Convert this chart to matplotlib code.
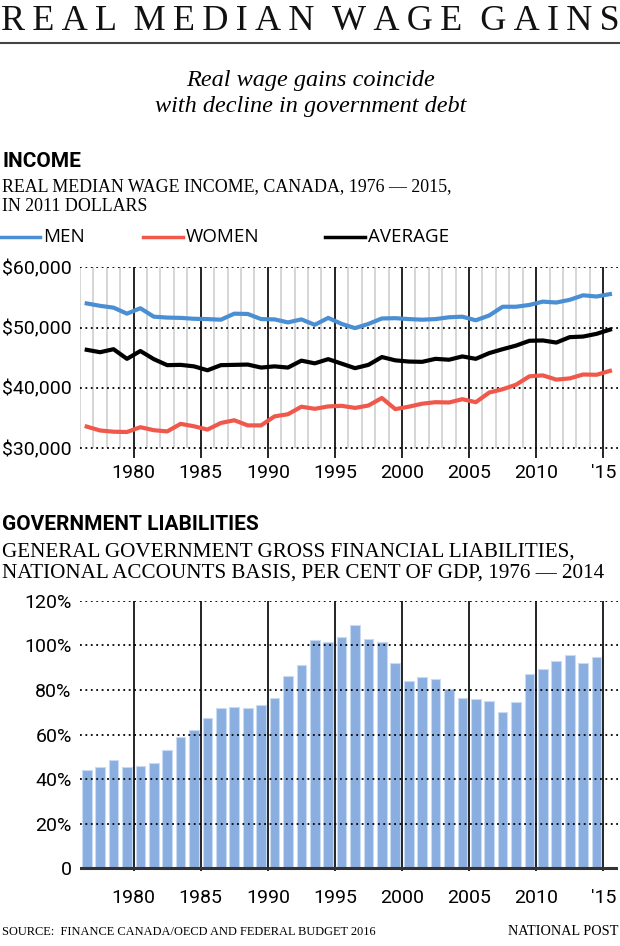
import numpy as np
import matplotlib
matplotlib.use("Agg")
import matplotlib.pyplot as plt
from matplotlib.lines import Line2D

# data
years_wage = np.arange(1976, 2016)
men = [54000, 53600, 53300, 52300, 53200, 51800, 51650, 51600, 51450, 51400,
       51300, 52300, 52250, 51400, 51350, 50850, 51350, 50450, 51600, 50600,
       49900, 50600, 51500, 51550, 51400, 51300, 51400, 51700, 51800, 51200,
       52000, 53450, 53450, 53750, 54300, 54150, 54600, 55350, 55150, 55550]
women = [33550, 32900, 32700, 32650, 33450, 32950, 32750, 34000, 33600, 33050,
         34150, 34600, 33750, 33750, 35250, 35600, 36850, 36500, 36900, 37000,
         36650, 37050, 38300, 36450, 36850, 37350, 37600, 37550, 38100, 37600,
         39200, 39750, 40500, 41900, 42050, 41350, 41550, 42200, 42150, 42800]
average = [46300, 45900, 46400, 44800, 46100, 44750, 43750, 43800, 43550, 42900,
           43750, 43800, 43850, 43350, 43550, 43350, 44500, 44050, 44750, 44000,
           43250, 43800, 45100, 44550, 44350, 44300, 44800, 44650, 45200, 44800,
           45750, 46400, 47000, 47800, 47850, 47500, 48400, 48500, 48950, 49650]

years_debt = np.arange(1976, 2015)
liabilities = [44.0, 45.5, 48.5, 45.5, 46.0, 47.3, 53.0, 58.8, 62.1, 67.4,
               71.7, 72.3, 72.0, 73.2, 76.3, 86.4, 91.0, 102.5, 101.3, 103.7,
               109.3, 103.0, 101.5, 92.1, 84.1, 85.6, 84.9, 80.4, 76.5, 75.7,
               74.9, 70.1, 74.6, 87.3, 89.4, 93.0, 95.8, 92.2, 94.6]

xticks = [1980, 1985, 1990, 1995, 2000, 2005, 2010, 2015]
xticklabels = ["1980", "1985", "1990", "1995", "2000", "2005", "2010", "'15"]

BLUE = "#4a8fd3"
RED = "#f0584c"
BAR = "#8aaedf"
SERIF = ["Liberation Serif", "DejaVu Serif"]
COND = ["Liberation Sans Narrow", "Roboto"]

W, H = 620, 946
fig = plt.figure(figsize=(6.2, 9.46), dpi=100)


def fy(px):
    return 1 - px / H


def fx(px):
    return px / W


# header
title = "  ".join("\u2009".join(w) for w in "REAL MEDIAN WAGE GAINS".split())
fig.text(fx(310), fy(30), title, family=SERIF, fontsize=26, ha="center",
         va="baseline", color="#111111")
fig.add_artist(Line2D([0, 1], [fy(43), fy(43)], color="#444444", lw=1.5))
fig.text(fx(311), fy(86), "Real wage gains coincide", family=SERIF,
         style="italic", fontsize=17.5, ha="center", va="baseline")
fig.text(fx(311), fy(112), "with decline in government debt", family=SERIF,
         style="italic", fontsize=17.5, ha="center", va="baseline")

# income heading
fig.text(fx(2), fy(167), "INCOME", family=COND, weight="bold", fontsize=15,
         va="baseline")
fig.text(fx(2), fy(191), "REAL MEDIAN WAGE INCOME, CANADA, 1976 \u2014 2015,",
         family=SERIF, fontsize=12.9, va="baseline")
fig.text(fx(2), fy(211), "IN 2011 DOLLARS", family=SERIF, fontsize=12.9,
         va="baseline")

# legend
leg = [(0, "MEN", BLUE), (143, "WOMEN", RED), (325, "AVERAGE", "black")]
for x0, lab, col in leg:
    fig.add_artist(Line2D([fx(x0), fx(x0 + 40)], [fy(237), fy(237)],
                          color=col, lw=2.5))
    fig.text(fx(x0 + 43), fy(237), lab, family=["Open Sans", "DejaVu Sans"],
             fontsize=13.5, va="center")


def frame(ax, ymin, ymax, grid, xpad):
    for s in ax.spines.values():
        s.set_visible(False)
    ax.set_xlim(1976, 2016.1)
    for g in grid:
        ax.axhline(g, color="black", lw=1.3, ls=(0, (1, 2)), zorder=4)
    ax.vlines(xticks, ymin, ymax, color="black", lw=1.2, zorder=5)
    ax.set_xticks(xticks)
    ax.set_xticklabels(xticklabels)
    ax.tick_params(length=0, labelsize=14, pad=6)
    ax.tick_params(axis="x", pad=xpad)
    for lab in ax.get_xticklabels() + ax.get_yticklabels():
        lab.set_family(COND)


# income chart
ax1 = fig.add_axes([fx(80), fy(458), fx(618 - 80), (458 - 267.3) / H])
ax1.set_ylim(28333, 60000)
minor = [y for y in years_wage if y % 5 != 0]
ax1.vlines(minor, 30000, 60000, color="#cccccc", lw=1.1, zorder=1)
frame(ax1, 28333, 60000, [30000, 40000, 50000, 60000], 4)
ax1.set_yticks([30000, 40000, 50000, 60000])
ax1.set_yticklabels(["$30,000", "$40,000", "$50,000", "$60,000"])
ax1.plot(years_wage + 0.5, men, color=BLUE, lw=3, zorder=6)
ax1.plot(years_wage + 0.5, women, color=RED, lw=3, zorder=6)
ax1.plot(years_wage + 0.5, average, color="black", lw=3, zorder=6)

# liabilities heading
fig.text(fx(2), fy(530), "GOVERNMENT LIABILITIES", family=COND, weight="bold",
         fontsize=15, va="baseline")
fig.text(fx(2), fy(557), "GENERAL GOVERNMENT GROSS FINANCIAL LIABILITIES,",
         family=SERIF, fontsize=15.2, va="baseline")
fig.text(fx(2), fy(578),
         "NATIONAL ACCOUNTS BASIS, PER CENT OF GDP, 1976 \u2014 2014",
         family=SERIF, fontsize=15.2, va="baseline")

# liabilities chart
ax2 = fig.add_axes([fx(80), fy(871), fx(618 - 80), (871 - 600.7) / H])
ax2.set_ylim(-1.2, 120)
ax2.bar(years_debt + 0.5, liabilities, width=0.72, color=BAR,
        edgecolor="#c9dbf2", lw=0.8, zorder=2)
frame(ax2, -1.2, 120, [20, 40, 60, 80, 100, 120], 13)
ax2.axhline(0, color="#333333", lw=2.2, zorder=6)
ax2.set_yticks([0, 20, 40, 60, 80, 100, 120])
ax2.set_yticklabels(["0", "20%", "40%", "60%", "80%", "100%", "120%"])

# footer
fig.text(fx(2), fy(935), "SOURCE:  FINANCE CANADA/OECD AND FEDERAL BUDGET 2016",
         family=SERIF, fontsize=8.9, va="baseline")
fig.text(fx(618), fy(935), "NATIONAL POST", family=SERIF, fontsize=10.3,
         ha="right", va="baseline")

fig.savefig("out.png", dpi=100)
